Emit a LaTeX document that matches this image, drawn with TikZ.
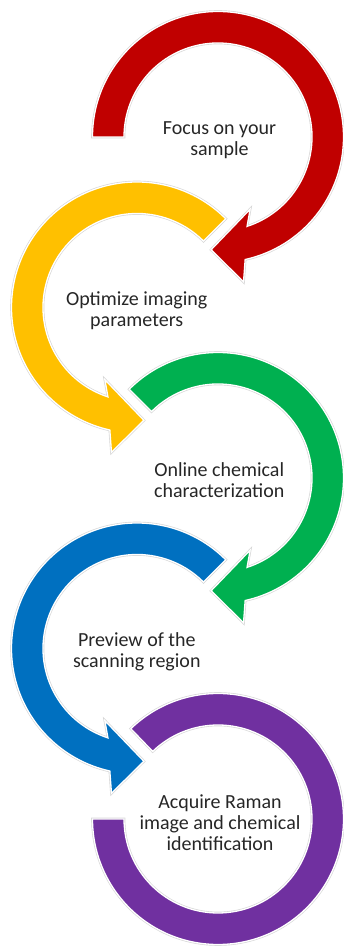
\documentclass[tikz,border=0pt]{standalone}
\usepackage{fontspec}
\setmainfont{Carlito}
\definecolor{cred}{HTML}{C00000}
\definecolor{cyellow}{HTML}{FFC000}
\definecolor{cgreen}{HTML}{00B050}
\definecolor{cblue}{HTML}{0070C0}
\definecolor{cpurple}{HTML}{7030A0}
\definecolor{ctext}{HTML}{262626}
\def\Ro{125.5}
\def\Ri{94}
\newcommand{\cyclearrow}[5]{%
\begin{scope}[shift={(#1,#2)}, xscale=#3]
\path[band, fill=#5] (#4:\Ro) arc[start angle=#4, end angle=-77.5, radius=\Ro]
 -- (-80:147) -- (-93.5:113) -- (-66:79) -- (-72:\Ri)
 arc[start angle=-72, end angle=#4, radius=\Ri] -- cycle;
\end{scope}}
\begin{document}
\begin{tikzpicture}[x=1bp,y=1bp,
  band/.style={preaction={draw=black!16, line width=2.6bp}, draw=white, line width=1.3bp, line join=miter},
  lbl/.style={align=center, text=ctext, font=\fontsize{20bp}{21bp}\selectfont, inner sep=0pt}]
\useasboundingbox (0,0) rectangle (343,946);
% red
\cyclearrow{218}{809}{1}{180}{cred}
% yellow
\cyclearrow{137}{638.5}{-1}{135}{cyellow}
% green
\cyclearrow{218}{468}{1}{135}{cgreen}
% blue
\cyclearrow{137}{297.5}{-1}{135}{cblue}
% purple ring
\begin{scope}[shift={(218,127)}]
\path[band, fill=cpurple] (134:\Ro) arc[start angle=134, end angle=-180, radius=\Ro]
 -- (180:\Ri) arc[start angle=-180, end angle=134, radius=\Ri] -- cycle;
\end{scope}
\node[lbl] (t1) at (219.5,805.8) {Focus on your\\sample};
\node[lbl] (t2) at (136.7,635.5) {Optimize imaging\\parameters};
\node[lbl] (t3) at (219.2,465.9) {Online chemical\\characterization};
\node[lbl] (t4) at (136.8,294.2) {Preview of the\\scanning region};
\node[lbl] (t5) at (220,123.4) {Acquire Raman\\image and chemical\\identification};
\end{tikzpicture}
\end{document}
